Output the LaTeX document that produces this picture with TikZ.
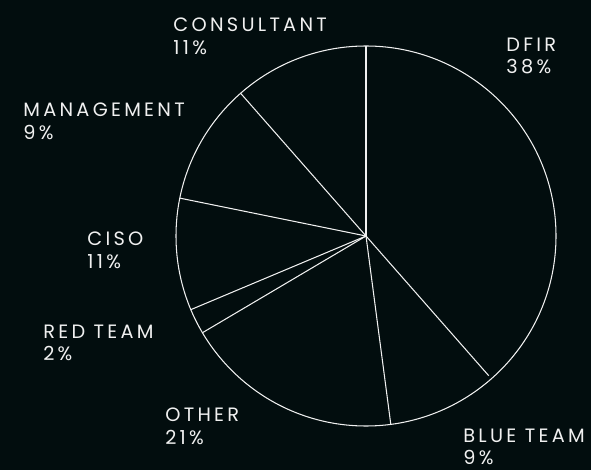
\documentclass[tikz,border=0pt]{standalone}
\usepackage{fontspec}
\setmainfont{Poppins}[LetterSpace=17]
\usetikzlibrary{calc}
\definecolor{bgdark}{HTML}{020D0E}
\definecolor{inkwhite}{HTML}{F0F0F0}

\begin{document}
\begin{tikzpicture}[x=0.02cm, y=0.02cm,
		slice/.style={inkwhite, line width=0.6pt},
		share/.style={anchor=north west, inner sep=0pt, align=left, text=inkwhite,
			font=\fontsize{11}{12.6}\selectfont}]
		\fill[bgdark] (0,0) rectangle (591,470);
		\useasboundingbox (0,0) rectangle (591,470);

		\coordinate (O) at (366,234);

		\draw[slice] (O) circle (190);

		% slice borders, clockwise from the top
		\draw[slice] (O) -- ++(90:190) coordinate (top);
		\draw[slice] (O) -- ++(-48.7:186) coordinate (dfir);
		\draw[slice] (O) -- ++(-82.5:190) coordinate (blue);
		\draw[slice] (O) -- ++(-149.4:190) coordinate (other);
		\draw[slice] (O) -- ++(202.8:190) coordinate (red);
		\draw[slice] (O) -- ++(168.5:190) coordinate (ciso);
		\draw[slice] (O) -- ++(131.3:190) coordinate (mgmt);

		\node[share] (consultant) at (173,452) {CONSULTANT\\11\%};
		\node[share] (dfirlbl) at (506,432) {DFIR\\38\%};
		\node[share] (mgmtlbl) at (23,367) {MANAGEMENT\\9\%};
		\node[share] (cisolbl) at (87,238) {CISO\\11\%};
		\node[share] (redlbl) at (43,145) {RED TEAM\\2\%};
		\node[share] (otherlbl) at (165,62) {OTHER\\21\%};
		\node[share] (bluelbl) at (463,41) {BLUE TEAM\\9\%};
	\end{tikzpicture}
\end{document}
